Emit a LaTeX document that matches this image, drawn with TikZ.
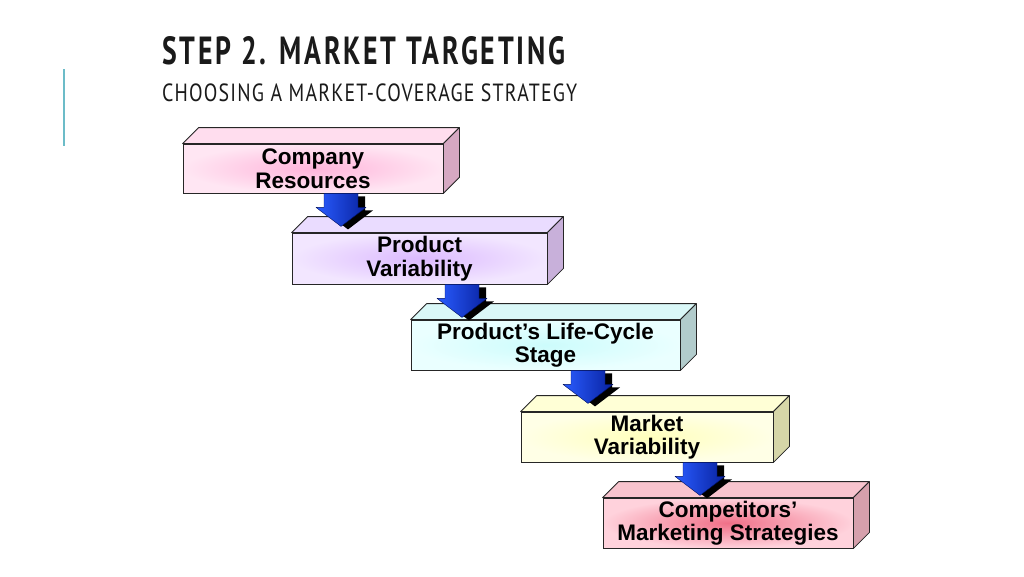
\documentclass[tikz,border=0pt]{standalone}
\usepackage{fontspec}
\usetikzlibrary{calc}
\newfontfamily\boxfont{Liberation Sans}
\newfontfamily\titlefont[LetterSpace=10]{PT Sans}
\newfontfamily\subtitlefont[LetterSpace=6]{PT Sans}
\definecolor{barcol}{HTML}{6CBCC8}
\definecolor{titlecol}{HTML}{1A1A1A}
\definecolor{edgecol}{HTML}{262626}
% box 1 pink
\definecolor{aIn}{HTML}{FFB4DA}\definecolor{aOut}{HTML}{FFE6F3}\definecolor{aTop}{HTML}{FFDDEE}\definecolor{aSide}{HTML}{D6A8C2}
% box 2 lavender
\definecolor{bIn}{HTML}{DCBAFF}\definecolor{bOut}{HTML}{F2E6FF}\definecolor{bTop}{HTML}{EADCFF}\definecolor{bSide}{HTML}{C8B0DA}
% box 3 cyan
\definecolor{cIn}{HTML}{CCFCFC}\definecolor{cOut}{HTML}{EAFFFF}\definecolor{cTop}{HTML}{DAF8F8}\definecolor{cSide}{HTML}{B2CCCC}
% box 4 yellow
\definecolor{dIn}{HTML}{FFFFBC}\definecolor{dOut}{HTML}{FFFFE6}\definecolor{dTop}{HTML}{FFFFD6}\definecolor{dSide}{HTML}{D6D6A8}
% box 5 red-pink
\definecolor{eIn}{HTML}{F07088}\definecolor{eOut}{HTML}{FFD2DC}\definecolor{eTop}{HTML}{F8C4CE}\definecolor{eSide}{HTML}{D6A0AC}
% arrows
\definecolor{arrA}{HTML}{2A5CFF}\definecolor{arrB}{HTML}{0822A0}\definecolor{arrC}{HTML}{001060}
\tikzset{
  frontbox/.style={draw=edgecol, line width=0.8pt, inner sep=0pt, align=center,
    font=\boxfont\bfseries\fontsize{22.5}{23.5}\selectfont, text=black},
  face/.style={draw=edgecol, line width=0.8pt, line join=round},
  arrowshadow/.style={fill=black},
  arrowbody/.style={left color=arrA, right color=arrB, draw=arrC, line width=0.4pt, line join=round},
}
\newcommand\cuboidfaces[3]{%
  \filldraw[face, fill=#2] (#1.north west) -- ++(16,-16) -- ($(#1.north east)+(16,-16)$) -- (#1.north east) -- cycle;
  \filldraw[face, fill=#3] (#1.north east) -- ++(16,-16) -- ($(#1.south east)+(16,-16)$) -- (#1.south east) -- cycle;
}
\newcommand\flowarrow[1]{%
  \fill[arrowshadow, shift={(#1)}, xshift=7pt, yshift=-3pt]
    (-17,0) -- (-17,14) -- (-25,14) -- (0,33) -- (25,14) -- (17,14) -- (17,0) -- cycle;
  \shadedraw[arrowbody, shift={(#1)}]
    (-17,0) -- (-17,14) -- (-25,14) -- (0,33) -- (25,14) -- (17,14) -- (17,0) -- cycle;
}
\begin{document}
\begin{tikzpicture}[x=1pt, y=-1pt]
  \useasboundingbox[fill=white] (0,0) rectangle (1024,576);
  % title
  \node[anchor=north west, inner sep=0pt, text=titlecol] (title) at (162,36.7)
    {\resizebox{403pt}{28pt}{\titlefont\bfseries STEP 2. MARKET TARGETING}};
  \node[anchor=north west, inner sep=0pt, text=titlecol] (subtitle) at (162,83.3)
    {\resizebox{415pt}{17.7pt}{\subtitlefont CHOOSING A MARKET-COVERAGE STRATEGY}};
  \draw[barcol, line width=2pt] (63.7,69) -- (63.7,146);
  % boxes
  \node[frontbox, inner color=aIn, outer color=aOut, minimum width=260pt, minimum height=49pt] (b1) at (313,168.5) {Company\\Resources};
  \cuboidfaces{b1}{aTop}{aSide}
  \node[frontbox, inner color=bIn, outer color=bOut, minimum width=255pt, minimum height=51pt] (b2) at (419.5,258.5) {Product\\Variability};
  \cuboidfaces{b2}{bTop}{bSide}
  \node[frontbox, inner color=cIn, outer color=cOut, minimum width=269pt, minimum height=50pt] (b3) at (545.5,345) {Product’s Life-Cycle\\Stage};
  \cuboidfaces{b3}{cTop}{cSide}
  \node[frontbox, inner color=dIn, outer color=dOut, minimum width=252pt, minimum height=50pt] (b4) at (647,437) {Market\\Variability};
  \cuboidfaces{b4}{dTop}{dSide}
  \node[frontbox, inner color=eIn, outer color=eOut, minimum width=250pt, minimum height=50pt] (b5) at (728,523) {Competitors’\\Marketing Strategies};
  \cuboidfaces{b5}{eTop}{eSide}
  % arrows
  \path (b1.south) ++(28,0) coordinate (s1);
  \path (b2.south) ++(42.5,0) coordinate (s2);
  \path (b3.south) ++(42.5,0) coordinate (s3);
  \path (b4.south) ++(53,0) coordinate (s4);
  \flowarrow{s1}
  \flowarrow{s2}
  \flowarrow{s3}
  \flowarrow{s4}
\end{tikzpicture}
\end{document}
